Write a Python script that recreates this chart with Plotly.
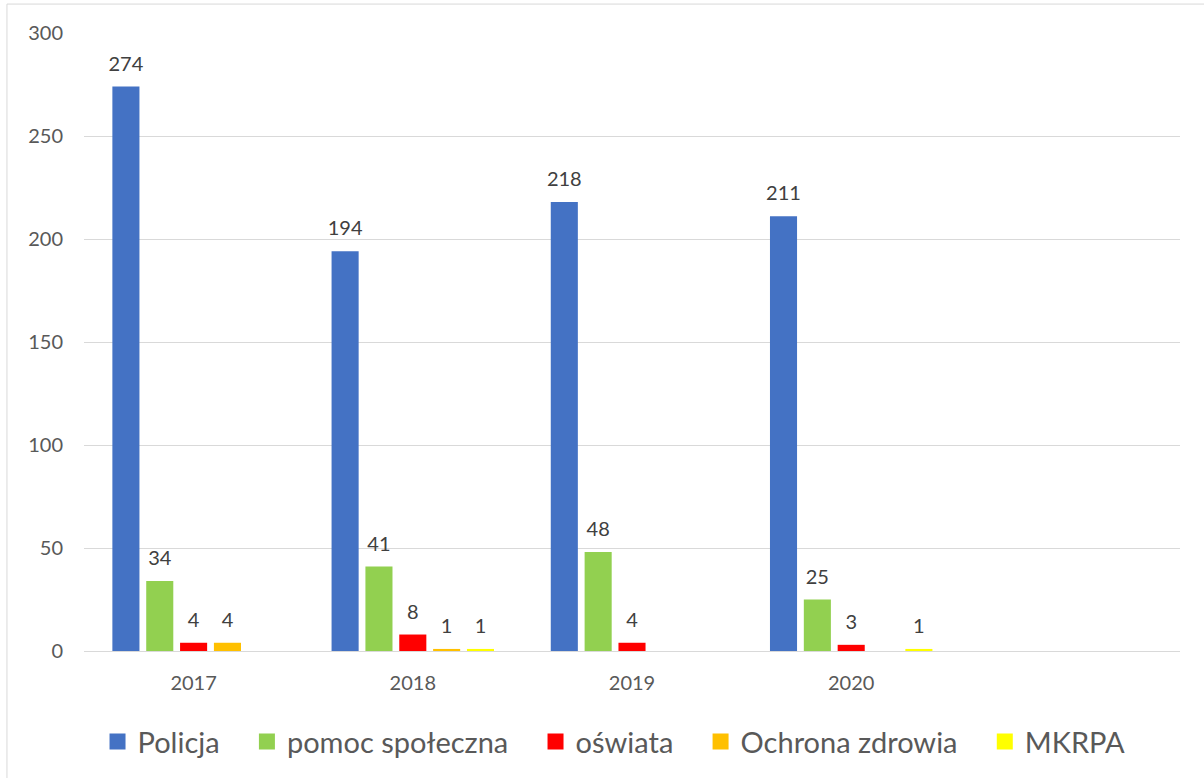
import plotly.graph_objects as go

years = ["2017", "2018", "2019", "2020"]
policja = [274, 194, 218, 211]
pomoc = [34, 41, 48, 25]
oswiata = [4, 8, 4, 3]
ochrona = [4, 1, None, None]
mkrpa = [None, 1, None, 1]

series = [
    ("Policja", policja, "#4472C4"),
    ("pomoc społeczna", pomoc, "#92D050"),
    ("oświata", oswiata, "#FF0000"),
    ("Ochrona zdrowia", ochrona, "#FFC000"),
    ("MKRPA", mkrpa, "#FFFF00"),
]

FONT = "Lato"
GAP = 0.228
NB = "\u00a0"
fig = go.Figure()
for i, (name, vals, col) in enumerate(series):
    fig.add_trace(go.Bar(
        x=years, y=vals, name=name, offsetgroup=str(i),
        marker=dict(color=col, line=dict(width=0)),
        showlegend=False, hoverinfo="skip",
    ))
for i, (name, vals, col) in enumerate(series):
    fig.add_trace(go.Scatter(
        x=years, y=vals, offsetgroup=str(i), mode="markers+text",
        marker=dict(size=16, color="rgba(0,0,0,0)"),
        text=[("" if v is None else str(v)) for v in vals],
        textposition="top center",
        textfont=dict(family=FONT, size=20, color="#404040"),
        showlegend=False, hoverinfo="skip", cliponaxis=False,
    ))
n = len(series)
for j, (name, vals, col) in enumerate(series):
    label = name + (NB * 3 if j < n - 1 else "")
    fig.add_trace(go.Scatter(
        x=[None], y=[None], name=label, mode="markers",
        marker=dict(symbol="square", size=16, color=col),
        showlegend=True, hoverinfo="skip",
    ))

fig.update_layout(
    width=1204, height=778,
    margin=dict(l=84, r=24, t=33, b=126),
    paper_bgcolor="white", plot_bgcolor="white",
    barmode="group", bargap=GAP, bargroupgap=0.2,
    scattermode="group", scattergap=GAP,
    font=dict(family=FONT, color="#595959"),
    showlegend=True,
    legend=dict(orientation="h", x=0.4836, xanchor="center", y=-0.145, yanchor="middle",
                font=dict(family=FONT, size=29, color="#595959"),
                itemwidth=30, traceorder="normal"),
)
fig.update_xaxes(
    type="category", range=[-0.5, 4.5], showgrid=False,
    showline=True, linecolor="#D9D9D9", linewidth=1,
    ticks="", tickfont=dict(family=FONT, size=20, color="#595959"),
    ticklabelstandoff=14,
)
fig.update_yaxes(
    range=[0, 300], dtick=50, showgrid=True, gridcolor="#D9D9D9", gridwidth=1,
    zeroline=False, showline=False, ticks="",
    tickfont=dict(family=FONT, size=20, color="#595959"),
    ticklabelstandoff=20,
)
fig.add_shape(type="rect", xref="paper", yref="paper",
              x0=-0.0703, x1=1.03, y0=-0.22, y1=1.0468,
              line=dict(color="#D9D9D9", width=1), fillcolor="rgba(0,0,0,0)", layer="below")

fig.write_html("out.html", config={"displayModeBar": False},
               post_script="document.body.style.margin='0';")
